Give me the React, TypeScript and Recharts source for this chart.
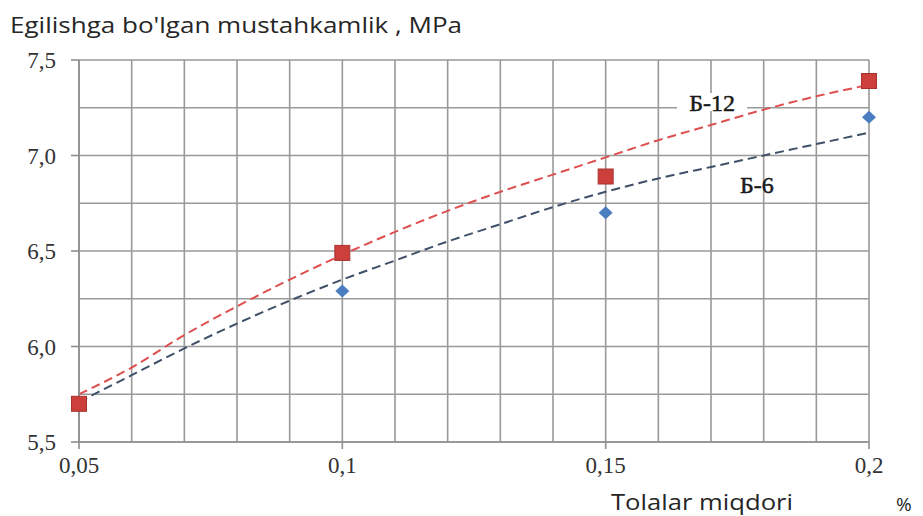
import { ComposedChart, Line, Scatter, XAxis, YAxis, CartesianGrid, ReferenceDot } from "recharts";

// measured points (Tolalar miqdori, %)
const doses = [0.05, 0.1, 0.15, 0.2];
const b12 = [5.7, 6.49, 6.89, 7.39];
const b6 = [5.69, 6.29, 6.7, 7.2];

// dashed trend curves at each grid column
const trendX = [0.05, 0.06, 0.07, 0.08, 0.09, 0.1, 0.11, 0.12, 0.13, 0.14, 0.15, 0.16, 0.17, 0.18, 0.19, 0.2];
const trendB12 = [5.75, 5.89, 6.06, 6.21, 6.35, 6.48, 6.6, 6.71, 6.81, 6.9, 6.99, 7.08, 7.16, 7.24, 7.31, 7.37];
const trendB6 = [5.71, 5.85, 5.99, 6.12, 6.24, 6.35, 6.45, 6.55, 6.64, 6.73, 6.81, 6.88, 6.94, 7.0, 7.06, 7.12];

const xGrid = [0.05, 0.06, 0.07, 0.08, 0.09, 0.1, 0.11, 0.12, 0.13, 0.14, 0.15, 0.16, 0.17, 0.18, 0.19, 0.2];
const xMajor = [0.05, 0.1, 0.15, 0.2];
const yGrid = [5.5, 5.75, 6, 6.25, 6.5, 6.75, 7, 7.25, 7.5];
const yMajor = [5.5, 6, 6.5, 7, 7.5];

const trendRows = trendX.map((x, i) => ({ x, t12: trendB12[i], t6: trendB6[i] }));
const b12Rows = doses.map((x, i) => ({ x, y: b12[i] }));
const b6Rows = doses.map((x, i) => ({ x, y: b6[i] }));

const AXIS = "#8f8f8f";
const serif = "'Liberation Serif', 'DejaVu Serif', serif";
const sans = "'Open Sans', 'Noto Sans', sans-serif";

const isIn = (list: number[], v: number) => list.some((m) => Math.abs(m - v) < 1e-6);

function XTick(props: any) {
    const { x, y, payload } = props;
    if (!isIn(xMajor, payload.value)) return <g />;
    return (
        <g>
            <line x1={x} x2={x} y1={y} y2={y + 7} stroke={AXIS} strokeWidth={1.6} />
            <text x={x} y={y + 31} textAnchor="middle" fontFamily={serif} fontSize={23} fill="#333">
                {String(payload.value).replace(".", ",")}
            </text>
        </g>
    );
}

function YTick(props: any) {
    const { x, y, payload } = props;
    if (!isIn(yMajor, payload.value)) return <g />;
    return (
        <g>
            <line x1={x - 8} x2={x} y1={y} y2={y} stroke={AXIS} strokeWidth={1.6} />
            <text x={x - 23} y={y + 8} textAnchor="end" fontFamily={serif} fontSize={23} fill="#333">
                {payload.value.toFixed(1).replace(".", ",")}
            </text>
        </g>
    );
}

function Square(props: any) {
    const { cx, cy } = props;
    return <rect x={cx - 7.5} y={cy - 7.5} width={15} height={15} fill="#cc3f3a" stroke="#a8322e" strokeWidth={1} />;
}

function Diamond(props: any) {
    const { cx, cy } = props;
    return <polygon points={`${cx},${cy - 6.5} ${cx + 7},${cy} ${cx},${cy + 6.5} ${cx - 7},${cy}`} fill="#4a7ec0" />;
}

const tag = (text: string, blank: boolean) => (props: any) => {
    const { viewBox } = props;
    const cx = viewBox.x + viewBox.width / 2;
    const cy = viewBox.y + viewBox.height / 2;
    return (
        <g>
            {blank && <rect x={cx - 35} y={cy - 10} width={70} height={18} fill="#fff" />}
            <text
                x={cx}
                y={cy + 8}
                textAnchor="middle"
                fontFamily={serif}
                fontSize={24}
                fill="#1a1a1a"
                stroke="#1a1a1a"
                strokeWidth={0.5}
            >
                {text}
            </text>
        </g>
    );
};

export default function App() {
    return (
        <div style={{ position: "absolute", left: 0, top: 0, width: 923, height: 516, background: "#fff" }}>
            <ComposedChart width={923} height={516} data={trendRows} margin={{ top: 60, right: 54, bottom: 0, left: 0 }}>
                <CartesianGrid stroke="#999" strokeWidth={1.6} />
                <XAxis
                    type="number"
                    dataKey="x"
                    domain={[0.05, 0.2]}
                    ticks={xGrid}
                    interval={0}
                    height={74}
                    tickSize={0}
                    tickMargin={0}
                    tickLine={false}
                    axisLine={{ stroke: AXIS, strokeWidth: 1.6 }}
                    tick={<XTick />}
                />
                <YAxis
                    type="number"
                    domain={[5.5, 7.5]}
                    ticks={yGrid}
                    interval={0}
                    width={79}
                    tickSize={0}
                    tickMargin={0}
                    tickLine={false}
                    axisLine={{ stroke: AXIS, strokeWidth: 1.6 }}
                    tick={<YTick />}
                />
                <ReferenceDot x={0.1702} y={7.275} r={1} fill="none" stroke="none" label={tag("Б-12", true)} />
                <ReferenceDot x={0.1787} y={6.845} r={1} fill="none" stroke="none" label={tag("Б-6", false)} />
                <Line dataKey="t6" type="monotone" stroke="#3f5068" strokeWidth={2} strokeDasharray="9 5" dot={false} isAnimationActive={false} />
                <Line dataKey="t12" type="monotone" stroke="#de4f50" strokeWidth={2} strokeDasharray="9 5" dot={false} isAnimationActive={false} />
                <Scatter data={b6Rows} dataKey="y" shape={<Diamond />} isAnimationActive={false} />
                <Scatter data={b12Rows} dataKey="y" shape={<Square />} isAnimationActive={false} />
            </ComposedChart>
            <svg width={923} height={516} style={{ position: "absolute", left: 0, top: 0, pointerEvents: "none" }}>
                <text x={10} y={33} fontFamily={sans} fontSize={22} fill="#262626" textLength={452} lengthAdjust="spacingAndGlyphs">
                    Egilishga bo'lgan mustahkamlik , MPa
                </text>
                <text x={611} y={510} fontFamily={sans} fontSize={21} fill="#262626" textLength={182} lengthAdjust="spacingAndGlyphs">
                    Tolalar miqdori
                </text>
                <text x={896} y={511} fontFamily={sans} fontSize={19} fill="#262626">
                    %
                </text>
            </svg>
        </div>
    );
}
